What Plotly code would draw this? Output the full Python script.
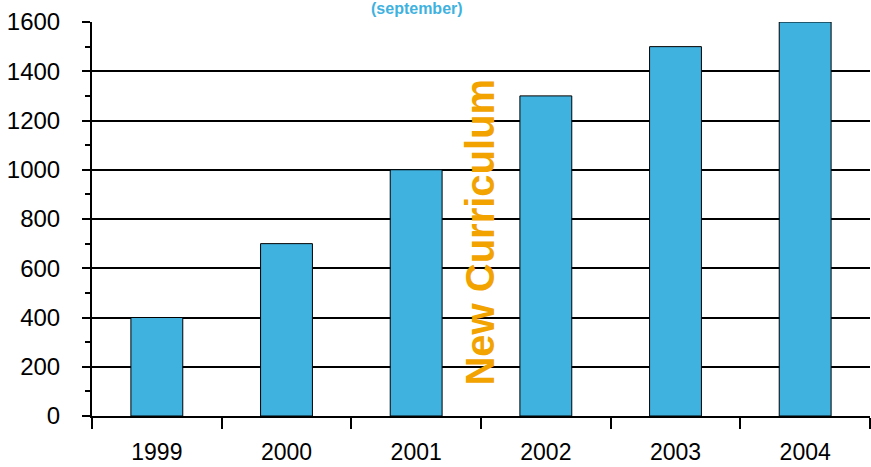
import plotly.graph_objects as go

years = ["1999", "2000", "2001", "2002", "2003", "2004"]
students = [400, 700, 1000, 1300, 1500, 1600]
y_ticks = [0, 200, 400, 600, 800, 1000, 1200, 1400, 1600]
subtitle = "(september)"
marker_text = "New Curriculum"

BAR_COLOR = "#3FB2DF"
FONT = "Liberation Sans, Arial, sans-serif"

fig = go.Figure()
fig.add_trace(go.Bar(
    x=years, y=students, width=0.4,
    marker=dict(color=BAR_COLOR, line=dict(color="black", width=1)),
    showlegend=False, hoverinfo="x+y",
))

fig.update_layout(
    width=871, height=467,
    margin=dict(l=92, r=1, t=22, b=51),
    paper_bgcolor="white", plot_bgcolor="white",
    font=dict(family=FONT, color="black", size=22),
    bargap=0.6,
)
fig.update_xaxes(
    type="category", tickson="boundaries", ticks="outside", ticklen=11,
    tickwidth=2, tickcolor="black", showline=True, linecolor="black",
    linewidth=2, showgrid=False, tickfont=dict(size=23),
    ticklabelstandoff=14, automargin=False,
)
fig.update_yaxes(
    range=[0, 1600], tickvals=y_ticks, ticks="outside", ticklen=8,
    tickwidth=2, tickcolor="black", showline=True, linecolor="black",
    linewidth=2, showgrid=True, gridcolor="black", gridwidth=2,
    zeroline=False, tickfont=dict(size=24), ticklabelstandoff=17,
    automargin=False,
    minor=dict(dtick=100, ticks="outside", ticklen=5, tickwidth=2,
               tickcolor="black", showgrid=False),
)

fig.add_annotation(
    text=marker_text, xref="paper", yref="paper", x=0.4987, y=0.468,
    textangle=-90, showarrow=False,
    font=dict(family=FONT, size=40, color="#F2A300", weight="bold"),
)
fig.add_annotation(
    text=subtitle, xref="paper", yref="paper", x=0.418, y=1.034,
    yanchor="middle", showarrow=False,
    font=dict(family=FONT, size=16, color="#3FB2DF", weight="bold"),
)

fig.write_html("out.html")
